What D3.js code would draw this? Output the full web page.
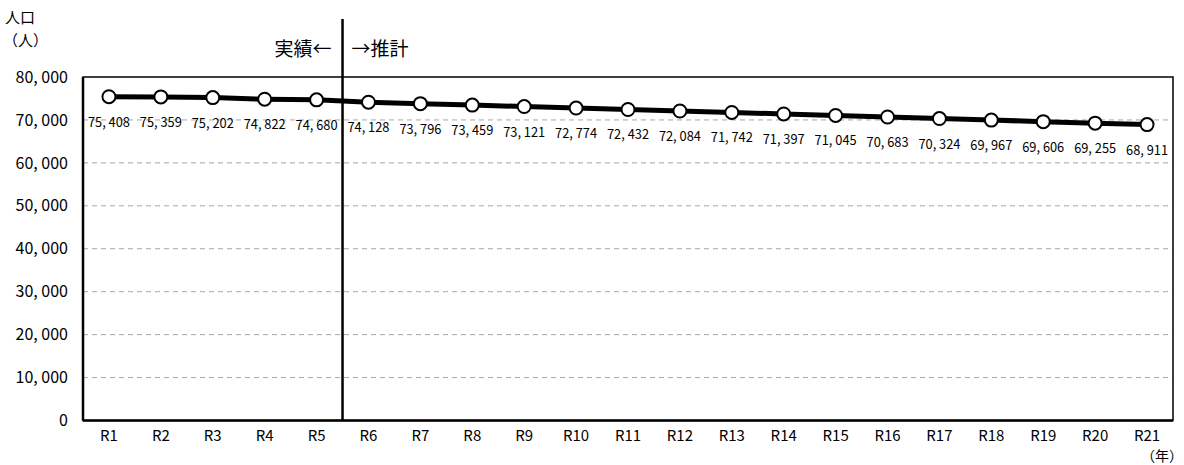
<!DOCTYPE html>
<html>
<head>
<meta charset="utf-8">
<script src="https://cdn.jsdelivr.net/npm/d3@7/dist/d3.min.js"></script>
<style>
  html, body { margin: 0; padding: 0; background: #fff; }
  svg { display: block; font-family: "Noto Sans CJK JP", "Noto Sans", sans-serif; }
</style>
</head>
<body>
<svg id="chart" width="1184" height="465"></svg>
<script>
// Population by year (R1–R5 actual, R6 onward projected)
const years = ["R1","R2","R3","R4","R5","R6","R7","R8","R9","R10","R11","R12","R13","R14","R15","R16","R17","R18","R19","R20","R21"];
const population = [75408,75359,75202,74822,74680,74128,73796,73459,73121,72774,72432,72084,71742,71397,71045,70683,70324,69967,69606,69255,68911];
const yTicks = [0,10000,20000,30000,40000,50000,60000,70000,80000];
const actualCount = 5;

(function draw() {
  const svg = d3.select("#chart");
  const pLeft = 83, pRight = 1173, pTop = 77, pBottom = 420.5;

  const x = d3.scaleBand().domain(years).range([pLeft, pRight]).padding(0);
  const y = d3.scaleLinear().domain([0, 80000]).range([pBottom, pTop]);
  const cx = d => x(d) + x.bandwidth() / 2;

  const fmt = v => d3.format(",")(v).replace(/,/g, ", ");

  // dashed gridlines
  svg.append("g").selectAll("line")
    .data(yTicks.filter(t => t > 0 && t < 80000))
    .join("line")
    .attr("x1", pLeft).attr("x2", pRight)
    .attr("y1", d => y(d)).attr("y2", d => y(d))
    .attr("stroke", "#a6a6a6").attr("stroke-width", 1)
    .attr("stroke-dasharray", "5,4");

  // plot frame
  svg.append("rect")
    .attr("x", pLeft).attr("y", pTop)
    .attr("width", pRight - pLeft).attr("height", pBottom - pTop)
    .attr("fill", "none").attr("stroke", "#000").attr("stroke-width", 1.5);
  svg.append("line").attr("x1", pLeft).attr("x2", pLeft).attr("y1", pTop).attr("y2", pBottom)
    .attr("stroke", "#000").attr("stroke-width", 2.5);
  svg.append("line").attr("x1", pLeft).attr("x2", pRight).attr("y1", pBottom).attr("y2", pBottom)
    .attr("stroke", "#000").attr("stroke-width", 2.5);

  // y-axis labels
  const yAxis = d3.axisLeft(y).tickValues(yTicks).tickSize(0).tickPadding(15).tickFormat(fmt);
  const ya = svg.append("g").attr("transform", `translate(${pLeft},0)`).call(yAxis);
  ya.select(".domain").remove();
  ya.selectAll("text").attr("font-size", 16).attr("fill", "#000")
    .attr("font-family", "'Noto Sans CJK JP', sans-serif");

  // x-axis labels
  const xAxis = d3.axisBottom(x).tickSize(0).tickPadding(10);
  const xa = svg.append("g").attr("transform", `translate(0,${pBottom})`).call(xAxis);
  xa.select(".domain").remove();
  xa.selectAll("text").attr("font-size", 15).attr("fill", "#000")
    .attr("font-family", "'Noto Sans CJK JP', sans-serif");

  // divider between actual and projected
  const divX = (cx(years[actualCount - 1]) + cx(years[actualCount])) / 2;
  svg.append("line")
    .attr("x1", divX).attr("x2", divX).attr("y1", 19).attr("y2", pBottom)
    .attr("stroke", "#000").attr("stroke-width", 2.5);

  svg.append("text").attr("x", divX - 11).attr("y", 56)
    .attr("text-anchor", "end").attr("font-size", 19).text("実績←");
  svg.append("text").attr("x", divX + 9).attr("y", 56)
    .attr("text-anchor", "start").attr("font-size", 19).text("→推計");

  // axis titles
  svg.append("text").attr("x", 5).attr("y", 23).attr("font-size", 15).text("人口");
  svg.append("text").attr("x", 3).attr("y", 46).attr("font-size", 15).text("（人）");
  svg.append("text").attr("x", 1183).attr("y", 461).attr("text-anchor", "end")
    .attr("font-size", 14).text("（年）");

  // population line
  const line = d3.line().x((d, i) => cx(years[i])).y(d => y(d));
  svg.append("path").datum(population)
    .attr("d", line).attr("fill", "none")
    .attr("stroke", "#000").attr("stroke-width", 5).attr("stroke-linejoin", "round");

  // markers
  svg.append("g").selectAll("circle").data(population).join("circle")
    .attr("cx", (d, i) => cx(years[i])).attr("cy", d => y(d))
    .attr("r", 6.5).attr("fill", "#fff").attr("stroke", "#000").attr("stroke-width", 2);

  // value labels (narrowed to fit each band)
  svg.append("g").selectAll("text").data(population).join("text")
    .attr("x", (d, i) => cx(years[i])).attr("y", d => y(d) + 30)
    .attr("text-anchor", "middle").attr("font-size", 14).attr("fill", "#000")
    .attr("font-family", "'Noto Sans CJK JP', sans-serif")
    .attr("textLength", 42).attr("lengthAdjust", "spacingAndGlyphs")
    .text(fmt);
})();
</script>
</body>
</html>
